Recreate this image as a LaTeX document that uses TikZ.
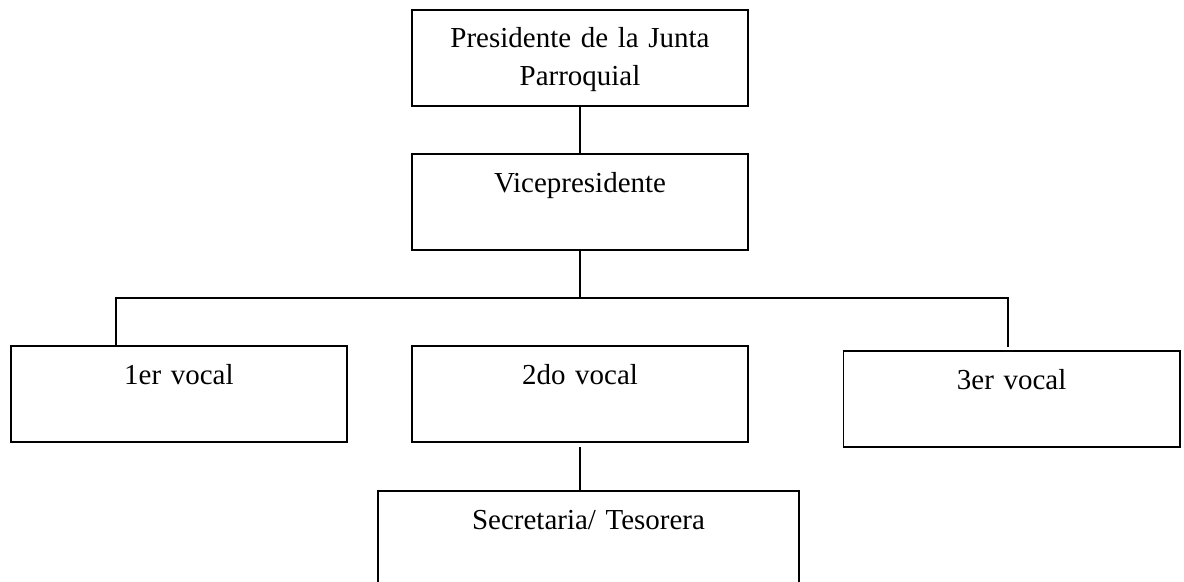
\documentclass[tikz,border=0pt]{standalone}
\usepackage{fontspec}
\setmainfont{Liberation Serif}
\usepackage{tikz}
\newcommand{\orgfont}{\fontsize{20.6}{27}\selectfont}

\begin{document}
\begin{tikzpicture}[x=0.025cm,y=-0.025cm,node distance=3.6cm,
  org node/.style={rectangle,draw,line width=1.2pt,inner sep=0pt,text width=8.4cm,
    align=center,text height=0.95cm,text depth=1.45cm,font=\orgfont}]
  \clip (0,0) rectangle (1184,582);
  \node[org node] (pres) at (580,58) {Presidente de la Junta\\Parroquial};
  \node[org node] (vice) [below of=pres] {Vicepresidente};
  \node[org node] (v2) [below of=vice,node distance=4.8cm] {2do vocal};
  \node[org node] (v1) [left of=v2,node distance=10.025cm] {1er vocal};
  \node[org node] (v3) [right of=v2,node distance=10.7875cm,yshift=-0.125cm] {3er vocal};
  \node[org node,text width=10.525cm] (sec) [below of=v2,node distance=3.625cm,xshift=0.2125cm] {Secretaria/ Tesorera};

  \coordinate (b1) at (116,298);
  \coordinate (b3) at (1008,298);
  \coordinate (e3) at (1008,347);
  \coordinate (s1) at (580,447);

  \path[line width=1.2pt]
    (pres) edge (vice)
    (vice.south) edge (vice.south |- b1)
    (s1) edge (sec.north -| s1);
  \draw[line width=1.2pt] (v1.north -| b1) -- (b1) -- (b3) -- (e3);
\end{tikzpicture}
\end{document}
